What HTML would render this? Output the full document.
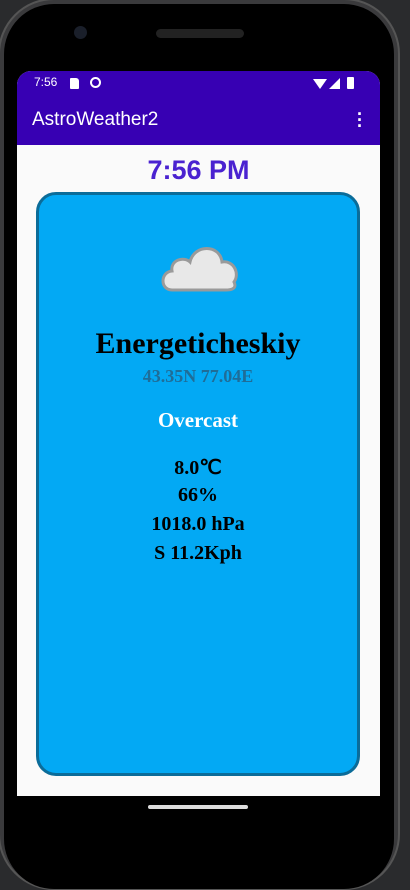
<!DOCTYPE html>
<html><head><meta charset="utf-8"><style>
*{margin:0;padding:0;box-sizing:border-box}
body{width:410px;height:885px;background:#2a2b2d;position:relative;overflow:hidden;font-family:"Liberation Sans",sans-serif}
.abs{position:absolute}
.serif{font-family:"Liberation Serif",serif;font-weight:bold;text-align:center;left:36px;width:324px}
</style></head><body>
<div class="abs" style="left:-2px;top:-2px;width:402px;height:892px;border-radius:56px;background:#3a3a3c;border:2px solid #555"></div>
<div class="abs" style="left:4px;top:4px;width:390px;height:885px;border-radius:50px;background:#000"></div>
<div class="abs" style="left:74px;top:26px;width:13px;height:13px;border-radius:50%;background:#1a1f2a"></div>
<div class="abs" style="left:156px;top:29px;width:88px;height:9px;border-radius:5px;background:#222"></div>
<div class="abs" style="left:17px;top:71px;width:363px;height:725px;background:#fafafa;border-radius:14px 14px 0 0;overflow:hidden">
 <div class="abs" style="left:0;top:0;width:363px;height:74px;background:#3700b3"></div>
 <div class="abs" style="left:17px;top:4px;color:#fff;font-size:12px">7:56</div>
 <div class="abs" style="left:53px;top:7px;width:9px;height:11px;background:#fff;border-radius:1px 3px 1px 1px"></div>
 <div class="abs" style="left:73px;top:6px;width:11px;height:11px;border:2px solid #fff;border-radius:50%"></div>
 <div class="abs" style="left:296px;top:8px;width:0;height:0;border-left:7px solid transparent;border-right:7px solid transparent;border-top:10px solid #fff"></div>
 <div class="abs" style="left:312px;top:7px;width:0;height:0;border-left:11px solid transparent;border-bottom:11px solid #fff"></div>
 <div class="abs" style="left:330px;top:6px;width:7px;height:12px;background:#fff;border-radius:1px"></div>
 <div class="abs" style="left:15px;top:38px;color:#fff;font-size:19px">AstroWeather2</div>
 <div class="abs" style="left:340px;top:40px;color:#fff;font-size:18px;line-height:6px;font-weight:bold">·<br>·<br>·</div>
 <div class="abs" style="left:0;top:84px;width:363px;text-align:center;color:#4a22d0;font-size:27px;font-weight:bold">7:56 PM</div>
</div>
<div class="abs" style="left:36px;top:192px;width:324px;height:584px;background:#03a9f4;border:3px solid #0b6c99;border-radius:20px"></div>
<svg class="abs" style="left:158px;top:238px" width="82" height="56" viewBox="0 0 82 56">
<path d="M14 52 C2 52 2 34 14 33 C12 22 26 18 32 24 C36 6 62 6 64 24 C76 22 82 36 76 44 C80 52 70 52 68 52 Z" fill="#e8e8e8" stroke="#9a9a9a" stroke-width="3"/>
</svg>
<div class="abs serif" style="top:327px;font-size:30px;color:#000">Energeticheskiy</div>
<div class="abs serif" style="top:366px;font-size:18px;color:#1f6d98">43.35N 77.04E</div>
<div class="abs serif" style="top:408px;font-size:21px;color:#fff">Overcast</div>
<div class="abs serif" style="top:455px;font-size:20px;color:#000">8.0℃</div>
<div class="abs serif" style="top:484px;font-size:20px;color:#000">66%</div>
<div class="abs serif" style="top:513px;font-size:20px;color:#000">1018.0 hPa</div>
<div class="abs serif" style="top:542px;font-size:20px;color:#000">S 11.2Kph</div>
<div class="abs" style="left:148px;top:805px;width:100px;height:4px;border-radius:2px;background:#ddd"></div>
</body></html>
